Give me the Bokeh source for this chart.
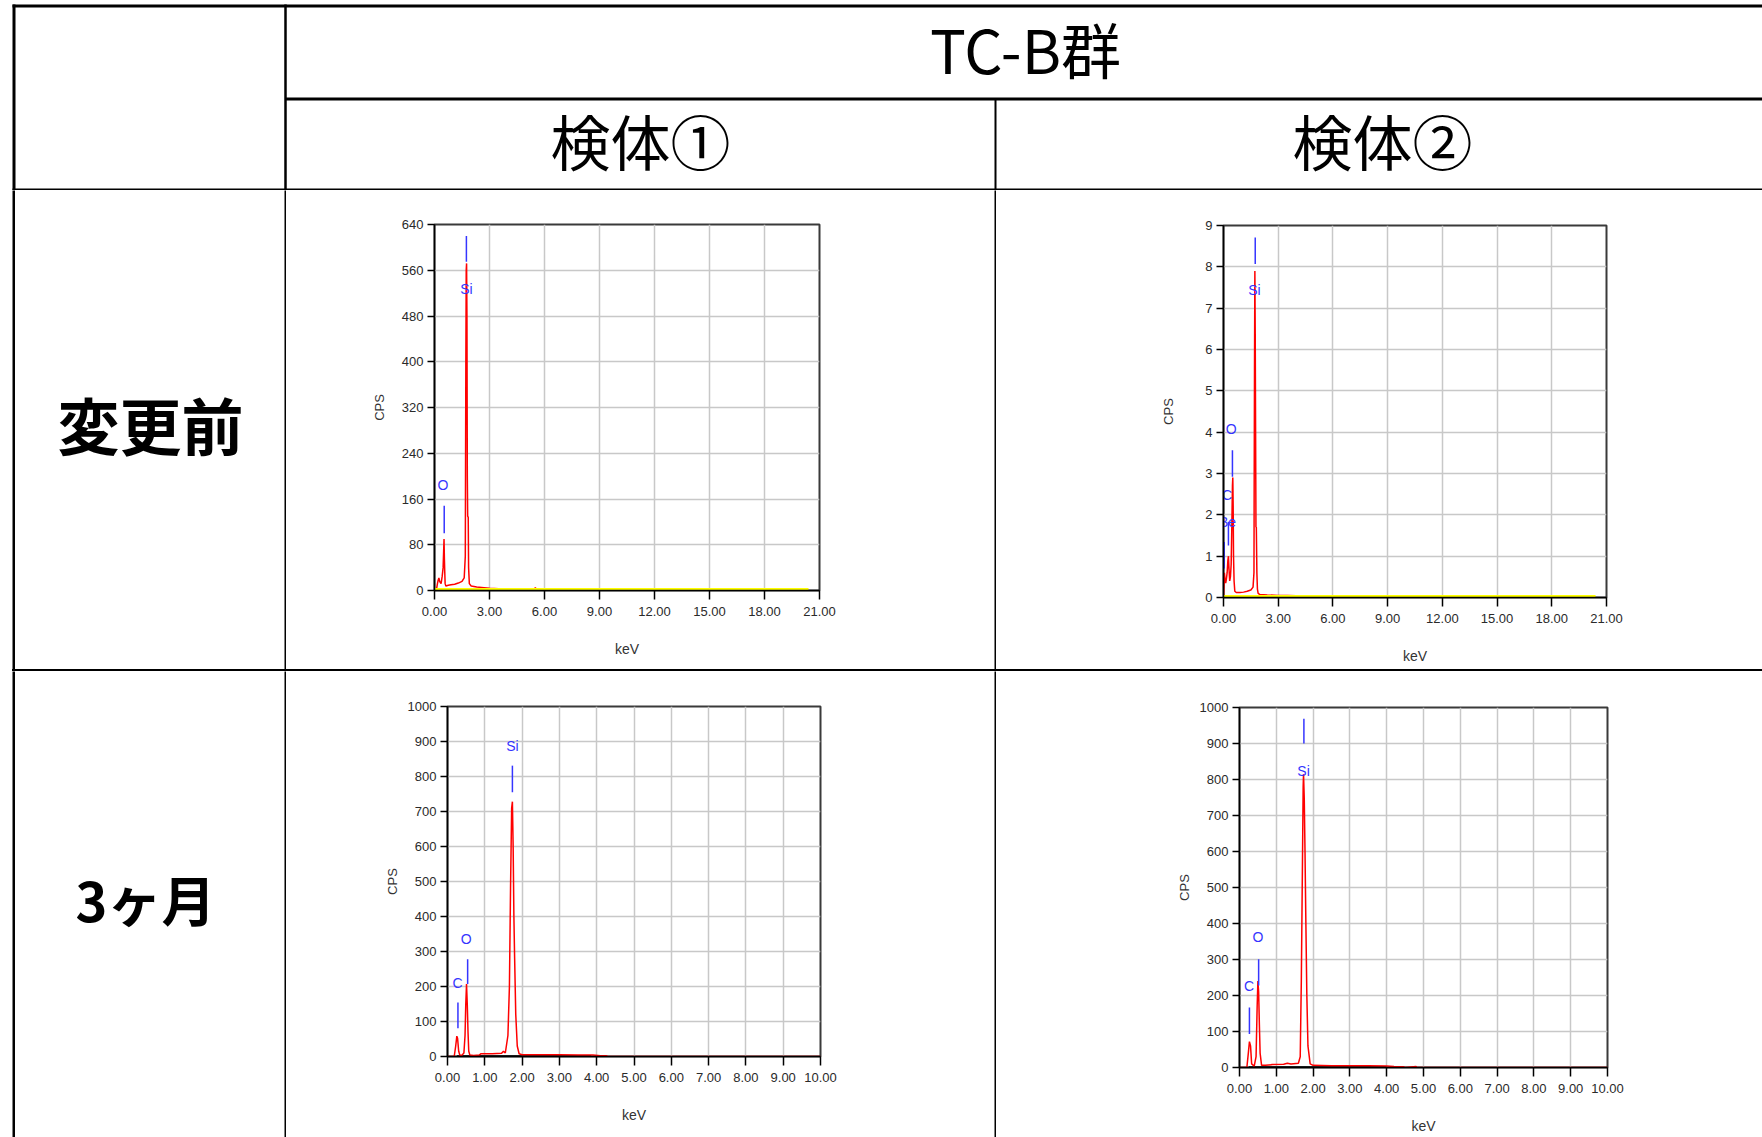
from bokeh.plotting import figure
from bokeh.layouts import column, row
from bokeh.models import Range1d, FixedTicker, NumeralTickFormatter, Div
from bokeh.core.properties import value
from bokeh.embed import file_html
from bokeh.resources import INLINE

# ---------------- texts ----------------
group_title = "TC-B群"
sample_titles = ["検体①", "検体②"]
row_titles = ["変更前", "3ヶ月"]

# ---------------- tick values ----------------
x_ticks_wide = [0, 3, 6, 9, 12, 15, 18, 21]
x_ticks_narrow = [0, 1, 2, 3, 4, 5, 6, 7, 8, 9, 10]
y_ticks_a = [0, 80, 160, 240, 320, 400, 480, 560, 640]
y_ticks_b = [0, 1, 2, 3, 4, 5, 6, 7, 8, 9]
y_ticks_cd = [0, 100, 200, 300, 400, 500, 600, 700, 800, 900, 1000]

# ---------------- spectrum A : 変更前 / 検体① ----------------
a_kev = [0.0, 0.12, 0.16, 0.20, 0.24, 0.28, 0.32, 0.36, 0.42, 0.47, 0.50, 0.52, 0.54, 0.56, 0.58,
         0.62, 0.75, 0.90, 1.10, 1.30, 1.50, 1.62, 1.68, 1.71, 1.73, 1.75, 1.77, 1.79, 1.81, 1.84,
         1.86, 1.90, 2.00, 2.30, 2.70, 3.00, 3.50, 4.00, 4.50, 5.00, 5.45, 5.50, 5.55, 6.50, 8.00,
         10.50, 10.55, 10.60, 11.00, 11.05, 11.10, 14.20, 14.25, 14.30, 20.4]
a_cps = [0, 4, 12, 18, 22, 16, 14, 12, 25, 40, 70, 90, 55, 32, 12,
         8, 9, 10, 11, 13, 16, 22, 60, 400, 560, 572, 480, 200, 130, 128,
         40, 12, 8, 6, 5, 4, 3, 3, 2, 2, 2, 5, 2, 1, 0,
         0, 3, 0, 0, 3, 0, 0, 4, 0, 0]
a_base_kev = [0.0, 20.4]
a_base_cps = [0, 0]
a_elem = ["O", "Si"]
a_line_kev = [0.53, 1.74]
a_line_lo = [100, 575]
a_line_hi = [148, 620]
a_lab_kev = [0.46, 1.74]
a_lab_cps = [184, 528]

# ---------------- spectrum B : 変更前 / 検体② ----------------
b_kev = [0.0, 0.03, 0.05, 0.08, 0.12, 0.16, 0.20, 0.24, 0.27, 0.30, 0.34, 0.38, 0.42, 0.46, 0.49,
         0.51, 0.53, 0.55, 0.58, 0.62, 0.70, 0.90, 1.10, 1.30, 1.50, 1.62, 1.67, 1.70, 1.72, 1.74,
         1.76, 1.78, 1.80, 1.83, 1.86, 1.90, 2.00, 2.40, 3.00, 3.50, 4.00, 5.00, 6.00, 7.00, 8.50,
         9.60, 10.0, 11.8, 13.2, 14.9, 20.4]
b_cps = [0.0, 0.3, 0.6, 0.45, 0.35, 0.45, 0.6, 0.9, 1.0, 0.7, 0.4, 0.5, 0.8, 1.8, 2.7,
         2.9, 2.2, 1.0, 0.4, 0.15, 0.12, 0.12, 0.13, 0.15, 0.18, 0.25, 0.6, 5.5, 7.9, 6.35,
         4.0, 1.7, 1.7, 0.6, 0.2, 0.1, 0.07, 0.06, 0.05, 0.05, 0.04, 0.04, 0.03, 0.03, 0.02,
         0.03, 0.02, 0.02, 0.02, 0.02, 0.0]
b_base_kev = [0.0, 20.4]
b_base_cps = [0, 0]
b_elem = ["Be", "C", "O", "Si"]
b_line_kev = [0.04, 0.27, 0.49, 1.74]
b_line_lo = [0.70, 1.26, 2.92, 8.07]
b_line_hi = [1.34, 1.83, 3.56, 8.71]
b_lab_kev = [0.22, 0.19, 0.42, 1.70]
b_lab_cps = [1.83, 2.47, 4.08, 7.43]

# ---------------- spectrum C : 3ヶ月 / 検体① ----------------
c_kev = [0.0, 0.18, 0.22, 0.25, 0.27, 0.30, 0.33, 0.38, 0.44, 0.47, 0.49, 0.51, 0.53, 0.55, 0.57,
         0.60, 0.70, 0.85, 0.90, 1.20, 1.45, 1.50, 1.55, 1.62, 1.66, 1.69, 1.72, 1.74, 1.76, 1.78,
         1.80, 1.83, 1.87, 1.92, 2.00, 2.50, 3.00, 3.50, 3.90, 4.10, 4.25, 4.30, 10.0]
c_cps = [0, 0, 30, 58, 52, 15, 4, 3, 10, 60, 150, 207, 150, 70, 15,
         4, 3, 4, 8, 8, 9, 15, 10, 60, 200, 480, 710, 728, 600, 400,
         280, 120, 30, 8, 5, 5, 5, 4, 4, 2, 2, 0, 0]
c_bg_kev = [0.25, 3.85]
c_bg_cps = [2, 2]
c_elem = ["C", "O", "Si"]
c_line_kev = [0.28, 0.54, 1.74]
c_line_lo = [81, 207, 755]
c_line_hi = [154, 278, 831]
c_lab_kev = [0.27, 0.50, 1.74]
c_lab_cps = [211, 335, 888]

# ---------------- spectrum D : 3ヶ月 / 検体② ----------------
d_kev = [0.0, 0.20, 0.24, 0.27, 0.30, 0.33, 0.40, 0.45, 0.48, 0.50, 0.52, 0.54, 0.56, 0.60, 0.70,
         0.90, 1.20, 1.30, 1.40, 1.60, 1.65, 1.68, 1.71, 1.73, 1.74, 1.76, 1.78, 1.80, 1.83, 1.86,
         1.92, 2.00, 2.50, 3.00, 3.50, 4.00, 4.20, 4.45, 4.50, 4.80, 4.81, 10.0]
d_cps = [0, 0, 40, 72, 60, 10, 4, 30, 170, 240, 210, 120, 40, 6, 6,
         8, 9, 12, 10, 12, 30, 240, 560, 780, 815, 745, 600, 430, 200, 60,
         10, 6, 5, 5, 5, 4, 3, 2, 0, 3, 0, 0]
d_bg_kev = [0.25, 4.0]
d_bg_cps = [2, 2]
d_elem = ["C", "O", "Si"]
d_line_kev = [0.27, 0.52, 1.75]
d_line_lo = [93, 228, 900]
d_line_hi = [167, 301, 969]
d_lab_kev = [0.26, 0.50, 1.74]
d_lab_cps = [227, 362, 825]

# ---------------- layout geometry (pixels) ----------------
W = 1762
H_HEAD = 190
H_ROW1 = 479
H_ROW2 = 466
CW1 = 708
CW2 = 766
TXT_W = 269

CJK = value("Noto Sans CJK JP")
SANS = "Liberation Sans"


def no_align(p):
    try:
        p.frame_align = False
    except Exception:
        pass
    return p


def blank(w, h):
    p = figure(width=w, height=h, output_backend="svg", toolbar_location=None,
               x_range=Range1d(0, w), y_range=Range1d(h, 0),
               min_border=0, min_border_left=0, min_border_right=0,
               min_border_top=0, min_border_bottom=0)
    p.axis.visible = False
    p.grid.visible = False
    p.outline_line_color = None
    p.background_fill_color = "white"
    p.border_fill_color = "white"
    return no_align(p)


def strip(w, h, color):
    p = figure(width=w, height=h, output_backend="svg", toolbar_location=None,
               min_border=0, min_border_left=0, min_border_right=0,
               min_border_top=0, min_border_bottom=0)
    p.axis.visible = False
    p.grid.visible = False
    p.outline_line_color = None
    p.background_fill_color = color
    p.border_fill_color = color
    return no_align(p)


# header
head = blank(W, H_HEAD)
head.segment(x0=[12, 13.5, 285, 285, 995, 12], y0=[5.5, 4, 4, 98.5, 98, 189],
             x1=[W, 13.5, 285, W, 995, W], y1=[5.5, H_HEAD, H_HEAD, 98.5, H_HEAD, 189],
             line_color="black", line_width=[3, 3, 2.5, 3, 2, 2])
head.text(x=[1025], y=[47], text=[group_title], text_font=CJK, text_font_size="60px",
          text_align="center", text_baseline="middle", text_color="black")
head.text(x=[640, 1382], y=[139, 139], text=sample_titles, text_font=CJK,
          text_font_size="60px", text_align="center", text_baseline="middle", text_color="black")


def text_cell(h, label, tx, ty, size):
    p = blank(TXT_W, h)
    p.text(x=[tx], y=[ty], text=[label], text_font=CJK, text_font_size=size,
           text_font_style="bold", text_align="center", text_baseline="middle",
           text_color="black")
    return p


def chart(w, h, mb, xmax, ymax, xticks, yticks, kev, cps, base_kev, base_cps, base_color,
          base_width, base_on_top, elem, lk, llo, lhi, labk, labc, cps_standoff):
    p = figure(width=w, height=h, output_backend="svg", toolbar_location=None,
               x_range=Range1d(0, xmax), y_range=Range1d(0, ymax),
               min_border_left=mb[0], min_border_right=mb[1],
               min_border_top=mb[2], min_border_bottom=mb[3])
    no_align(p)
    p.background_fill_color = "white"
    p.border_fill_color = "white"
    p.outline_line_color = "#3a3a3a"
    p.outline_line_width = 2
    p.grid.grid_line_color = "#c8c8c8"
    p.grid.grid_line_width = 1.5

    p.xaxis.ticker = FixedTicker(ticks=xticks)
    p.yaxis.ticker = FixedTicker(ticks=yticks)
    p.xaxis.formatter = NumeralTickFormatter(format="0.00")
    for ax in (p.xaxis[0], p.yaxis[0]):
        ax.axis_line_color = "black"
        ax.axis_line_width = 1.5
        ax.major_tick_line_color = "black"
        ax.major_tick_line_width = 1.5
        ax.major_tick_in = 0
        ax.minor_tick_line_color = None
        ax.major_label_text_font = SANS
        ax.major_label_text_font_size = "13px"
        ax.major_label_text_color = "#2a2a2a"
        ax.axis_label_text_font_style = "normal"
        ax.axis_label_text_color = "#333333"
        ax.axis_label_text_font = SANS
    p.xaxis.major_tick_out = 9
    p.xaxis.major_label_standoff = 7
    p.xaxis.axis_label = "keV"
    p.xaxis.axis_label_text_font_size = "14px"
    p.xaxis.axis_label_standoff = 22
    p.yaxis.major_tick_out = 7
    p.yaxis.major_label_standoff = 4
    p.yaxis.axis_label = "CPS"
    p.yaxis.axis_label_text_font_size = "13px"
    p.yaxis.axis_label_standoff = cps_standoff

    if not base_on_top:
        p.line(base_kev, base_cps, line_color=base_color, line_width=base_width)
    p.line(kev, cps, line_color="#ff0000", line_width=1.5)
    if base_on_top:
        p.line(base_kev, base_cps, line_color=base_color, line_width=base_width)

    p.segment(x0=lk, y0=llo, x1=lk, y1=lhi, line_color="#3535ff", line_width=1.5)
    p.text(x=labk, y=labc, text=elem, text_font=value(SANS), text_font_size="14px",
           text_color="#3535ff", text_align="center", text_baseline="middle")
    return p


ca = chart(CW1, H_ROW1, (148, 175, 34, 79), 21, 640, x_ticks_wide, y_ticks_a,
           a_kev, a_cps, a_base_kev, a_base_cps, "#ffff00", 5, True,
           a_elem, a_line_kev, a_line_lo, a_line_hi, a_lab_kev, a_lab_cps, 12)
cb = chart(CW2, H_ROW1, (227, 156, 35, 72), 21, 9, x_ticks_wide, y_ticks_b,
           b_kev, b_cps, b_base_kev, b_base_cps, "#ffff00", 5, True,
           b_elem, b_line_kev, b_line_lo, b_line_hi, b_lab_kev, b_lab_cps, 26)
cc = chart(CW1, H_ROW2, (161, 174, 35, 81), 10, 1000, x_ticks_narrow, y_ticks_cd,
           c_kev, c_cps, c_bg_kev, c_bg_cps, "#222222", 1.5, False,
           c_elem, c_line_kev, c_line_lo, c_line_hi, c_lab_kev, c_lab_cps, 5)
cd = chart(CW2, H_ROW2, (243, 155, 36, 70), 10, 1000, x_ticks_narrow, y_ticks_cd,
           d_kev, d_cps, d_bg_kev, d_bg_cps, "#222222", 1.5, False,
           d_elem, d_line_kev, d_line_lo, d_line_hi, d_lab_kev, d_lab_cps, 5)


def table_row(h, label, tx, ty, size, c1, c2):
    return row(strip(12, h, "white"), strip(3, h, "black"),
               text_cell(h, label, tx, ty, size), strip(2, h, "black"),
               c1, strip(2, h, "black"), c2, spacing=0)


rule = Div(text="", width=W - 12, height=2, margin=(0, 0, 0, 12),
           styles={"background-color": "black", "overflow": "hidden",
                   "line-height": "0", "font-size": "0"})

layout = column(
    head,
    table_row(H_ROW1, row_titles[0], 135, 233, "62px", ca, cb),
    rule,
    table_row(H_ROW2, row_titles[1], 130, 227, "54px", cc, cd),
    spacing=0,
)

open("out.html", "w").write(file_html(layout, INLINE, title="TC-B群"))
